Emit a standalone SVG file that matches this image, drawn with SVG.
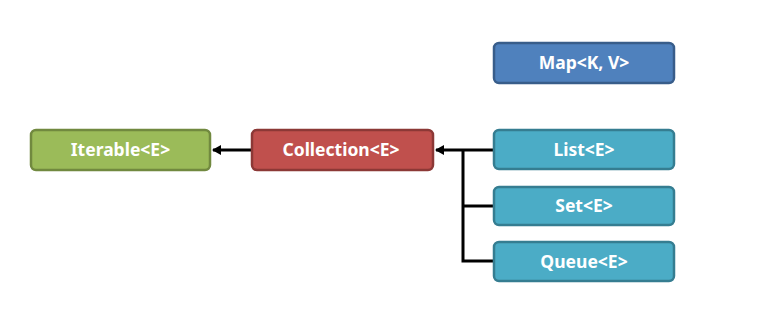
<svg xmlns="http://www.w3.org/2000/svg" width="759" height="323" viewBox="0 0 759 323">
<style>
.box{stroke-width:2.5}
.g{fill:#9BBB59;stroke:#71893F}
.r{fill:#C0504D;stroke:#8C3836}
.b{fill:#4F81BD;stroke:#385D8A}
.t{fill:#4BACC6;stroke:#357D91}
text{font-family:"Noto Sans","DejaVu Sans",sans-serif;font-weight:bold;font-size:17.5px;fill:#fff;text-anchor:middle;dominant-baseline:central}
.c{fill:none;stroke:#000;stroke-width:3}
</style>
<defs>
<marker id="ah" markerWidth="10" markerHeight="10" refX="8" refY="5" orient="auto" markerUnits="userSpaceOnUse">
<path d="M0,0 L9,5 L0,10 Z" fill="#000"/>
</marker>
</defs>
<rect width="759" height="323" fill="#fff"/>
<g id="connectors">
<path class="c" d="M252,150 H213" marker-end="url(#ah)"/>
<path class="c" d="M494,150 H436" marker-end="url(#ah)"/>
<path class="c" d="M463,150 V261 H494"/>
<path class="c" d="M463,206 H494"/>
</g>
<g id="iterable"><rect class="box g" x="31" y="130" width="179" height="40" rx="5"/><text x="120.5" y="149">Iterable&lt;E&gt;</text></g>
<g id="collection"><rect class="box r" x="252" y="130" width="181" height="40" rx="5"/><text x="341" y="149">Collection&lt;E&gt;</text></g>
<g id="map"><rect class="box b" x="494" y="43" width="180" height="40" rx="5"/><text x="584" y="62">Map&lt;K, V&gt;</text></g>
<g id="list"><rect class="box t" x="494" y="130" width="180" height="39" rx="5"/><text x="584" y="148.5">List&lt;E&gt;</text></g>
<g id="set"><rect class="box t" x="494" y="187" width="180" height="38" rx="5"/><text x="584" y="205">Set&lt;E&gt;</text></g>
<g id="queue"><rect class="box t" x="494" y="242" width="180" height="39" rx="5"/><text x="584" y="260.5">Queue&lt;E&gt;</text></g>
</svg>
